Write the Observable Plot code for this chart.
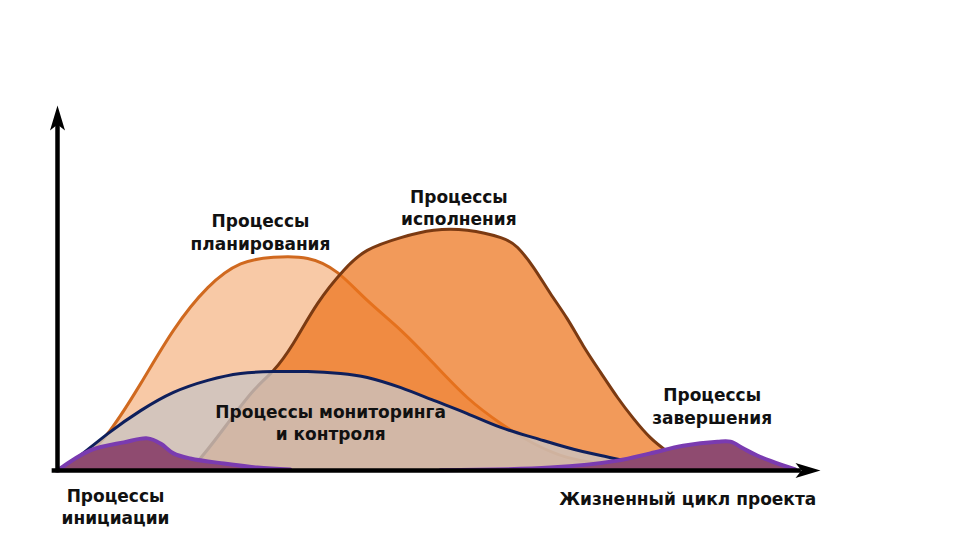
<!DOCTYPE html>
<html><head><meta charset="utf-8">
<script src="https://cdn.jsdelivr.net/npm/d3@7"></script>
<script src="https://cdn.jsdelivr.net/npm/@observablehq/plot@0.6"></script>
<style>body{margin:0;background:#fff} svg{display:block}</style>
</head><body><div id="chart"></div>
<script>
// Project lifecycle (0–100) vs. process intensity (0–100)
const planningX = [0.4, 3.7, 6.9, 10.9, 15.2, 19.7, 24.0, 28.3, 32.8, 36.7, 40.6, 45.0, 49.3, 53.7, 58.1, 62.4, 66.8, 71.2, 75.1];
const planningY = [0.5, 4.1, 11.0, 23.8, 38.4, 50.1, 56.6, 58.4, 58.1, 54.2, 46.6, 38.4, 29.3, 20.0, 12.9, 7.4, 3.6, 1.9, 0.8];

const executionX = [16.8, 18.7, 22.3, 25.7, 28.3, 30.9, 34.1, 37.5, 40.6, 45.0, 49.3, 53.7, 58.1, 60.3, 62.4, 64.6, 66.8, 68.9, 71.2, 73.4, 75.5, 77.7, 80.1, 83.0];
const executionY = [0.3, 3.3, 12.9, 21.9, 27.4, 34.8, 45.8, 54.8, 60.3, 63.8, 65.8, 65.8, 63.8, 61.1, 55.6, 48.5, 41.6, 34.2, 26.8, 20.0, 14.2, 9.0, 4.9, 0.5];

const monitoringX = [0, 2.1, 6.6, 10.9, 15.2, 19.7, 24.0, 28.3, 32.8, 37.1, 40.6, 45.0, 49.3, 53.7, 58.1, 62.4, 66.8, 71.2, 74.7, 77.7];
const monitoringY = [0.3, 2.7, 10.1, 16.4, 21.4, 24.7, 26.6, 27.1, 27.1, 26.6, 25.5, 22.7, 19.2, 15.6, 11.8, 9.0, 6.3, 4.1, 2.5, 0.8];

const initiationX = [0, 4.3, 8.7, 11.8, 13.5, 15.2, 17.4, 21.8, 26.2, 30.5];
const initiationY = [0, 5.5, 7.7, 8.8, 7.4, 4.7, 3.3, 1.9, 0.8, 0.3];

const closingX = [50.2, 64.6, 73.4, 77.7, 82.0, 86.5, 88.2, 89.9, 91.7, 95.1, 96.7];
const closingY = [0.1, 0.8, 2.7, 4.7, 6.8, 7.9, 7.9, 6.0, 4.1, 1.4, 0.3];

// Annotation texts and their anchor positions (data units)
const labelText = ["Процессы\nпланирования", "Процессы\nисполнения", "Процессы мониторинга\nи контроля", "Процессы\nзавершения", "Процессы\nинициации", "Жизненный цикл проекта"];
const labelX = [26.6, 52.6, 35.8, 85.8, 7.6, 82.6];
const labelY = [65.5, 72.3, 13.4, 17.8, -9.6, -7.4];

const xDomain = [0, 100];
const yDomain = [0, 100];

const rows = (xs, ys) => xs.map((x, i) => ({x, y: ys[i]}));
const planning = rows(planningX, planningY);
const execution = rows(executionX, executionY);
const monitoring = rows(monitoringX, monitoringY);
const initiation = rows(initiationX, initiationY);
const closing = rows(closingX, closingY);
const labels = labelText.map((t, i) => ({text: t, x: labelX[i], y: labelY[i]}));
const arrows = [
  {x: xDomain[0], y: yDomain[1], rotate: 0},
  {x: xDomain[1], y: yDomain[0], rotate: 90}
];

const arrowHead = {
  draw(ctx) {
    ctx.moveTo(0, 0);
    ctx.lineTo(-7.5, 25);
    ctx.lineTo(0, 19);
    ctx.lineTo(7.5, 25);
    ctx.closePath();
  }
};

const curve = "natural";
const curveP = "catmull-rom";
const chart = Plot.plot({
  width: 972,
  height: 547,
  marginLeft: 57,
  marginRight: 152,
  marginTop: 105,
  marginBottom: 77,
  style: {fontFamily: "DejaVu Sans, Verdana, sans-serif", background: "#fff"},
  x: {domain: xDomain, axis: null},
  y: {domain: yDomain, axis: null},
  marks: [
    Plot.areaY(planning, {x: "x", y: "y", fill: "#F8C9A6", curve}),
    Plot.lineY(planning, {x: "x", y: "y", stroke: "#D0691F", strokeWidth: 3, curve}),
    Plot.areaY(execution, {x: "x", y: "y", fill: "#ED751D", fillOpacity: 0.73, curve}),
    Plot.lineY(execution, {x: "x", y: "y", stroke: "#7B3A12", strokeWidth: 3, curve}),
    Plot.areaY(monitoring, {x: "x", y: "y", fill: "#C9C4C3", fillOpacity: 0.78, curve}),
    Plot.lineY(monitoring, {x: "x", y: "y", stroke: "#0E1F5C", strokeWidth: 3, curve}),
    Plot.areaY(initiation, {x: "x", y: "y", fill: "#8F4B70", curve: curveP}),
    Plot.lineY(initiation, {x: "x", y: "y", stroke: "#7A3BB0", strokeWidth: 4, curve: curveP}),
    Plot.areaY(closing, {x: "x", y: "y", fill: "#8F4B70", curve: curveP}),
    Plot.lineY(closing, {x: "x", y: "y", stroke: "#7A3BB0", strokeWidth: 4, curve: curveP}),
    Plot.ruleX([xDomain[0]], {y1: yDomain[0] - 0.6, y2: yDomain[1] - 4, stroke: "#000", strokeWidth: 4.5}),
    Plot.ruleY([yDomain[0]], {x1: xDomain[0] - 0.7, x2: xDomain[1] - 2.5, stroke: "#000", strokeWidth: 4.5}),
    Plot.dot(arrows, {x: "x", y: "y", rotate: "rotate", symbol: arrowHead, fill: "#000", stroke: "none"}),
    Plot.text(labels, {x: "x", y: "y", text: "text", fontSize: 17, fontWeight: "bold", fill: "#111", lineHeight: 1.32, textAnchor: "middle"})
  ]
});
document.getElementById("chart").append(chart);
</script>
</body></html>
